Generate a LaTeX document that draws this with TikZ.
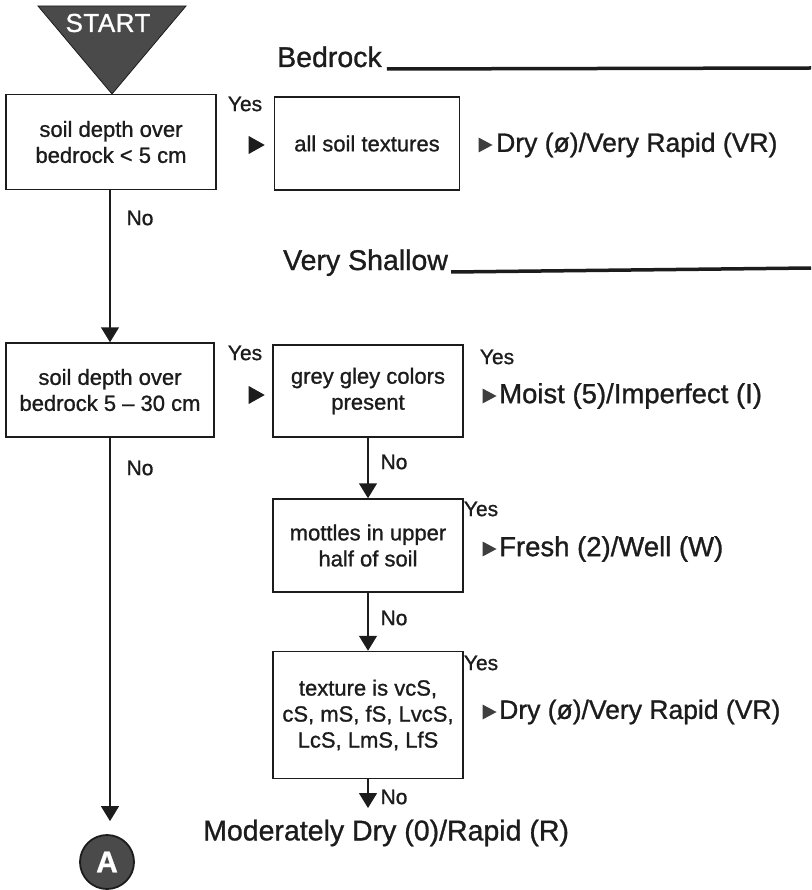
\documentclass[tikz,border=0pt]{standalone}
\usepackage{fontspec}
\setmainfont{Liberation Sans}[FakeBold=1]
\usetikzlibrary{arrows.meta,shapes.geometric}
\definecolor{ink}{HTML}{1C1C1C}
\definecolor{darkfill}{HTML}{4A4A4A}
\begin{document}
\begin{tikzpicture}[x=1pt,y=-1pt,
  every node/.style={text=ink},
  box/.style={draw=ink, line width=1.5pt, align=center, inner sep=0pt,
    font=\fontsize{22}{26}\selectfont},
  lbl/.style={font=\fontsize{21}{24}\selectfont, inner sep=0pt},
  res/.style={font=\fontsize{27.5}{30}\selectfont, inner sep=0pt, anchor=west},
  resdry/.style={res, font=\fontsize{26.5}{30}\selectfont},
  hdr/.style={font=\fontsize{28.5}{32}\selectfont, inner sep=0pt, anchor=base west},
  bigmark/.style={isosceles triangle, isosceles triangle stretches, fill=ink,
    minimum height=16pt, minimum width=18pt, inner sep=0pt},
  smallmark/.style={isosceles triangle, isosceles triangle stretches, fill=ink!85,
    minimum height=14pt, minimum width=15pt, inner sep=0pt},
  conn/.style={draw=ink, line width=1.5pt, -{Triangle[width=18pt,length=15pt]}},
  rule/.style={draw=ink, line width=3.5pt}]
\useasboundingbox (0,0) rectangle (811,890);
\fill[white] (0,0) rectangle (811,890);

% start marker
\filldraw[fill=darkfill, draw=ink, line width=0.8pt]
  (38,6) -- (186,6) -- (112,94) coordinate (apex) -- cycle;
\node[text=white, font=\fontsize{26}{28}\selectfont\addfontfeature{LetterSpace=2}] (start) at (108,23) {START};

% headings
\node[hdr] (bedrock) at (277,67) {Bedrock};
\coordinate (bedrockend) at (811,68);
\draw[rule] ([xshift=5pt,yshift=-2pt]bedrock.base east) -- (bedrockend);
\node[hdr] (shallow) at (283,270) {Very Shallow};
\coordinate (shallowend) at (811,268);
\draw[rule] ([xshift=3pt,yshift=-2pt]shallow.base east) -- (shallowend);

% decision boxes
\node[box, minimum width=210pt, minimum height=95pt] (b1) at (111,142) {soil depth over\\bedrock < 5 cm};
\node[box, minimum width=185pt, minimum height=93pt] (b2) at (367,143.5) {all soil textures};
\node[box, minimum width=208pt, minimum height=94pt] (b3) at (110,390) {soil depth over\\bedrock 5 -- 30 cm};
\node[box, minimum width=190pt, minimum height=92pt] (b4) at (368,391) {grey gley colors\\present};
\node[box, minimum width=190pt, minimum height=93pt] (b5) at (368,545.5) {mottles in upper\\half of soil};
\node[box, minimum width=190pt, minimum height=127pt] (b6) at (368,715) {texture is vcS,\\cS, mS, fS, LvcS,\\LcS, LmS, LfS};

% end connector
\node[circle, fill=darkfill, draw=ink, line width=1.8pt, minimum size=54pt, inner sep=0pt,
  text=white, font=\bfseries\fontsize{30}{32}\selectfont] (A) at (107,862) {A};

% yes branches
\node[lbl] (y1) at (245,104) {Yes};
\node[bigmark] (m1) at (254,145) {};
\node[lbl] (y3) at (245,353) {Yes};
\node[bigmark] (m3) at (254,395) {};
\node[lbl] (y4) at (497,357) {Yes};
\node[lbl] (y5) at (481,509) {Yes};
\node[lbl] (y6) at (481,663) {Yes};

% results
\node[smallmark] (s2) at (483,145) {};
\node[resdry] (r2) at (496,145) {Dry (ø)/Very Rapid (VR)};
\node[smallmark] (s4) at (487,396) {};
\node[res] (r4) at (499,396) {Moist (5)/Imperfect (I)};
\node[smallmark] (s5) at (487,549) {};
\node[res] (r5) at (499,549) {Fresh (2)/Well (W)};
\node[smallmark] (s6) at (487,712) {};
\node[resdry] (r6) at (499,712) {Dry (ø)/Very Rapid (VR)};
\node[res, font=\fontsize{28.5}{30}\selectfont] (r7) at (203,833) {Moderately Dry (0)/Rapid (R)};
\coordinate (r7top) at (368,808);

% no branches
\node[lbl] (n1) at (140,218) {No};
\node[lbl] (n3) at (140,468) {No};
\node[lbl] (n4) at (394,462) {No};
\node[lbl] (n5) at (394,618) {No};
\node[lbl] (n6) at (394,797) {No};

\draw[conn] (b1.south -| b3.north) -- (b3.north);
\draw[conn] (b3.south) -- ([yshift=13pt]b3.south |- A.north);
\draw[conn] (b4.south) -- (b5.north);
\draw[conn] (b5.south) -- (b6.north);
\draw[conn] (b6.south) -- (r7top);
\end{tikzpicture}
\end{document}
